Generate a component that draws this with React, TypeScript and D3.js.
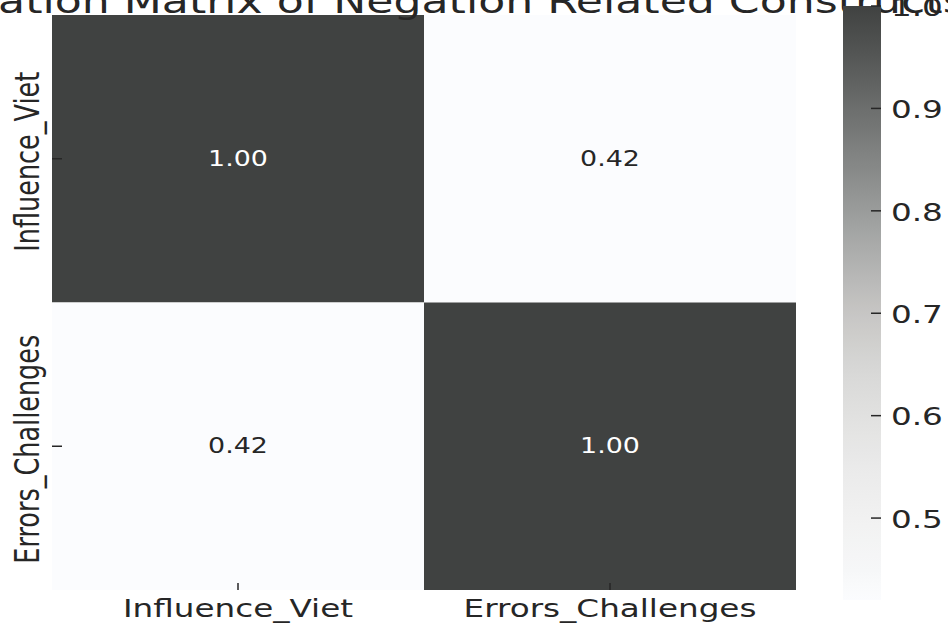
import React from "react";
import * as d3 from "d3";

const categories = ["Influence_Viet", "Errors_Challenges"];
const matrix = [
  [1.0, 0.42],
  [0.42, 1.0],
];
const colorbarTicks = [0.5, 0.6, 0.7, 0.8, 0.9, 1.0];
const colorStopValues = [0.42, 0.45, 0.5, 0.55, 0.6, 0.65, 0.7, 0.75, 0.8, 0.85, 0.9, 0.95, 1.0];
const colorStopColors = [
  "#fbfcfe", "#f6f7f8", "#f1f1f1", "#eaeaea", "#e1e1e0", "#d6d6d5", "#c7c6c4",
  "#b1b2b1", "#9a9c9b", "#838584", "#6c6e6d", "#555756", "#404241",
];
const title = "Correlation Matrix of Negation Related Constructs";

const W = 948;
const H = 626;
const SX = 1.28;
const FONT = "'DejaVu Sans', sans-serif";

export default function App() {
  const x = d3.scaleBand<string>().domain(categories).range([52, 796]);
  const y = d3.scaleBand<string>().domain(categories).range([15, 590]);
  const color = d3.scaleLinear<string>().domain(colorStopValues).range(colorStopColors).clamp(true);
  const vmin = 0.42;
  const vmax = 1.0;
  const cb = d3.scaleLinear().domain([vmin, vmax]).range([600, 6]);
  const cbX0 = 843;
  const cbX1 = 881;
  const gradStops = d3.range(0, 41).map((i) => {
    const v = vmin + ((vmax - vmin) * i) / 40;
    return { offset: (i / 40) * 100, color: color(v) };
  });

  const cells: { r: number; c: number; v: number }[] = [];
  matrix.forEach((row, r) => row.forEach((v, c) => cells.push({ r, c, v })));

  return (
    <div style={{ position: "fixed", left: 0, top: 0, width: W, height: H, background: "#fff" }}>
      <svg width={W} height={H} style={{ display: "block" }}>
        <defs>
          <linearGradient id="cbgrad" x1="0" y1="1" x2="0" y2="0">
            {gradStops.map((s, i) => (
              <stop key={i} offset={`${s.offset}%`} stopColor={s.color} />
            ))}
          </linearGradient>
        </defs>
        <rect x={0} y={0} width={W} height={H} fill="#fff" />
        {/* cells */}
        {cells.map((d, i) => (
          <rect
            key={i}
            x={x(categories[d.c])!}
            y={y(categories[d.r])!}
            width={x.bandwidth()}
            height={y.bandwidth()}
            fill={color(d.v)}
          />
        ))}
        {/* title */}
        <text
          transform={`translate(416,13) scale(${SX},1)`}
          textAnchor="middle"
          fontFamily={FONT}
          fontSize={34.5}
          fill="#262626"
        >
          {title}
        </text>
        {/* annotations */}
        {cells.map((d, i) => (
          <text
            key={"a" + i}
            transform={`translate(${x(categories[d.c])! + x.bandwidth() / 2},${
              y(categories[d.r])! + y.bandwidth() / 2
            }) scale(${SX},1)`}
            textAnchor="middle"
            dominantBaseline="central"
            fontFamily={FONT}
            fontSize={21}
            fill={d.v > 0.7 ? "#ffffff" : "#262626"}
          >
            {d.v.toFixed(2)}
          </text>
        ))}
        {/* x ticks and labels */}
        {categories.map((c) => {
          const cx = x(c)! + x.bandwidth() / 2;
          return (
            <g key={"x" + c}>
              <line x1={cx} x2={cx} y1={583} y2={590} stroke="#262626" strokeWidth={1.5} />
              <text
                transform={`translate(${cx},617) scale(${SX},1)`}
                textAnchor="middle"
                fontFamily={FONT}
                fontSize={25.5}
                fill="#262626"
              >
                {c}
              </text>
            </g>
          );
        })}
        {/* y ticks and labels */}
        {categories.map((c) => {
          const cy = y(c)! + y.bandwidth() / 2;
          return (
            <g key={"y" + c}>
              <line x1={52} x2={62} y1={cy} y2={cy} stroke="#262626" strokeWidth={1.5} />
              <text
                transform={`translate(39,${cy + 3}) scale(1.32,1) rotate(-90)`}
                textAnchor="middle"
                fontFamily={FONT}
                fontSize={25.5}
                fill="#262626"
              >
                {c}
              </text>
            </g>
          );
        })}
        {/* colorbar */}
        <rect x={cbX0} y={cb(vmax)} width={cbX1 - cbX0} height={cb(vmin) - cb(vmax)} fill="url(#cbgrad)" />
        {colorbarTicks.map((t) => (
          <g key={"cb" + t}>
            <line x1={cbX1 - 10} x2={cbX1} y1={cb(t)} y2={cb(t)} stroke="#262626" strokeWidth={1.5} />
            <text
              transform={`translate(891,${cb(t) + 1}) scale(${SX},1)`}
              dominantBaseline="central"
              fontFamily={FONT}
              fontSize={25.5}
              fill="#262626"
            >
              {t.toFixed(1)}
            </text>
          </g>
        ))}
      </svg>
    </div>
  );
}
